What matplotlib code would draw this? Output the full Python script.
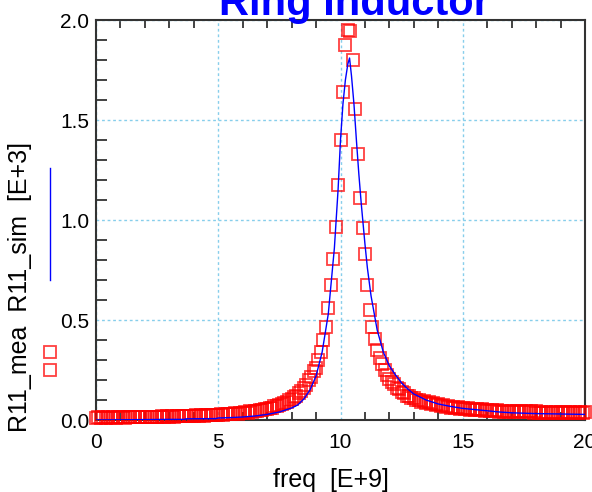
import numpy as np
import matplotlib
matplotlib.use("Agg")
import matplotlib.pyplot as plt
from matplotlib.lines import Line2D
from matplotlib.ticker import MultipleLocator, FormatStrFormatter

plt.rcParams['font.family'] = ['Liberation Sans', 'DejaVu Sans']

# measured sweep, 0..20 GHz in 0.1 GHz steps
mea_freq = np.round(np.arange(0, 20.01, 0.1), 1)
mea_r11 = [
    0.012, 0.013, 0.011, 0.013, 0.012, 0.014, 0.012, 0.013, 0.011, 0.014,
    0.013, 0.014, 0.012, 0.015, 0.013, 0.014, 0.013, 0.015, 0.014, 0.015,
    0.014, 0.016, 0.014, 0.017, 0.015, 0.016, 0.015, 0.018, 0.016, 0.018,
    0.017, 0.019, 0.017, 0.020, 0.018, 0.020, 0.019, 0.021, 0.019, 0.022,
    0.020, 0.023, 0.021, 0.024, 0.022, 0.025, 0.023, 0.026, 0.024, 0.027,
    0.025, 0.029, 0.027, 0.031, 0.028, 0.032, 0.030, 0.035, 0.032, 0.037,
    0.035, 0.040, 0.037, 0.043, 0.040, 0.047, 0.044, 0.051, 0.048, 0.056,
    0.053, 0.062, 0.060, 0.069, 0.068, 0.077, 0.078, 0.087, 0.090, 0.100,
    0.103, 0.115, 0.120, 0.135, 0.143, 0.162, 0.175, 0.198, 0.215, 0.245,
    0.258, 0.300, 0.342, 0.400, 0.467, 0.558, 0.675, 0.805, 0.963, 1.175,
    1.400, 1.640, 1.875, 1.950, 1.945, 1.800, 1.555, 1.330, 1.110, 0.958,
    0.828, 0.675, 0.550, 0.467, 0.403, 0.350, 0.308, 0.280, 0.250, 0.225,
    0.205, 0.188, 0.178, 0.162, 0.155, 0.140, 0.136, 0.122, 0.120, 0.108,
    0.110, 0.098, 0.101, 0.090, 0.094, 0.084, 0.088, 0.078, 0.083, 0.073,
    0.078, 0.069, 0.074, 0.065, 0.070, 0.062, 0.067, 0.059, 0.064, 0.056,
    0.062, 0.054, 0.059, 0.052, 0.057, 0.050, 0.055, 0.048, 0.053, 0.046,
    0.051, 0.045, 0.050, 0.043, 0.048, 0.042, 0.047, 0.041, 0.046, 0.040,
    0.045, 0.039, 0.045, 0.039, 0.044, 0.038, 0.044, 0.038, 0.043, 0.037,
    0.043, 0.037, 0.042, 0.036, 0.042, 0.036, 0.042, 0.036, 0.041, 0.035,
    0.041, 0.035, 0.041, 0.035, 0.040, 0.034, 0.040, 0.034, 0.040, 0.034,
    0.039,
]

sim_freq = [0.0, 1.0, 2.0, 3.0, 3.6, 3.7, 4.9, 5.0, 5.5, 6.0, 6.5, 7.0, 7.5,
            8.0, 8.25, 8.5, 8.75, 9.0, 9.25, 9.5, 9.75, 9.9, 10.0, 10.1, 10.2,
            10.3, 10.37, 10.45, 10.55, 10.65, 10.75, 10.85, 11.0, 11.1, 11.25,
            11.5, 11.75, 12.0, 12.25, 12.5, 12.75, 13.0, 13.5, 14.0, 14.5,
            15.0, 15.5, 16.0, 16.5, 17.0, 18.0, 19.0, 20.0]
sim_r11 = [0.000, 0.001, 0.002, 0.003, 0.003, 0.006, 0.007, 0.010, 0.012,
           0.015, 0.020, 0.028, 0.040, 0.060, 0.075, 0.105, 0.150, 0.220,
           0.340, 0.530, 0.860, 1.150, 1.400, 1.580, 1.700, 1.780, 1.810,
           1.720, 1.580, 1.400, 1.230, 1.080, 0.880, 0.760, 0.620, 0.450,
           0.340, 0.270, 0.225, 0.185, 0.155, 0.130, 0.100, 0.080, 0.068,
           0.058, 0.052, 0.046, 0.040, 0.036, 0.032, 0.030, 0.028]


def main():
    W, H = 592, 492
    fig = plt.figure(figsize=(W / 100, H / 100), dpi=100)
    ax = fig.add_axes([96 / W, 1 - 420 / H, (585 - 96) / W, 400 / H])

    ax.plot(mea_freq, mea_r11, linestyle='none', marker='s', markersize=8.5,
            markerfacecolor='none', markeredgecolor='red', markeredgewidth=1.3,
            alpha=0.75, clip_on=False, zorder=3)
    ax.plot(sim_freq, sim_r11, color='blue', linewidth=1.0, zorder=4)

    ax.set_xlim(0, 20)
    ax.set_ylim(0, 2.0)
    ax.xaxis.set_major_locator(MultipleLocator(5))
    ax.xaxis.set_minor_locator(MultipleLocator(1))
    ax.yaxis.set_major_locator(MultipleLocator(0.5))
    ax.yaxis.set_minor_locator(MultipleLocator(0.1))
    ax.yaxis.set_major_formatter(FormatStrFormatter('%.1f'))

    ax.grid(True, which='major', color='#87CEEB', linestyle=(0, (2, 2)),
            linewidth=1.0)
    ax.set_axisbelow(True)

    ax.tick_params(axis='x', which='major', direction='in', length=0,
                   labelsize=15, pad=9, top=True)
    ax.tick_params(axis='x', which='minor', direction='in', length=6,
                   width=1.2, color='#222222', top=True)
    ax.tick_params(axis='y', which='major', direction='in', length=0,
                   labelsize=15, pad=5)
    ax.tick_params(axis='y', which='minor', direction='in', length=8,
                   width=1.2, color='#222222')
    for s in ax.spines.values():
        s.set_linewidth(1.5)
        s.set_color('#333333')

    fig.text(354 / W, 1 - 15 / H, "Ring Inductor", color='blue',
             fontsize=30, fontweight='bold', ha='center', va='baseline')
    fig.text(331 / W, 1 - 487 / H, "freq  [E+9]", fontsize=18,
             ha='center', va='baseline')
    fig.text(20 / W, 1 - 432 / H, "R11_mea  R11_sim  [E+3]", fontsize=18,
             rotation=90, ha='center', va='bottom')

    # legend glyphs beside the y label
    fig.add_artist(Line2D([50 / W, 50 / W], [1 - 168 / H, 1 - 280 / H],
                          color='blue', linewidth=1.0))
    fig.add_artist(Line2D([50 / W, 50 / W], [1 - 352 / H, 1 - 370 / H],
                          linestyle='none', marker='s', markersize=8.5,
                          markerfacecolor='none', markeredgecolor='red',
                          markeredgewidth=1.3, alpha=0.75))

    fig.savefig("out.png", dpi=100)


if __name__ == "__main__":
    main()
